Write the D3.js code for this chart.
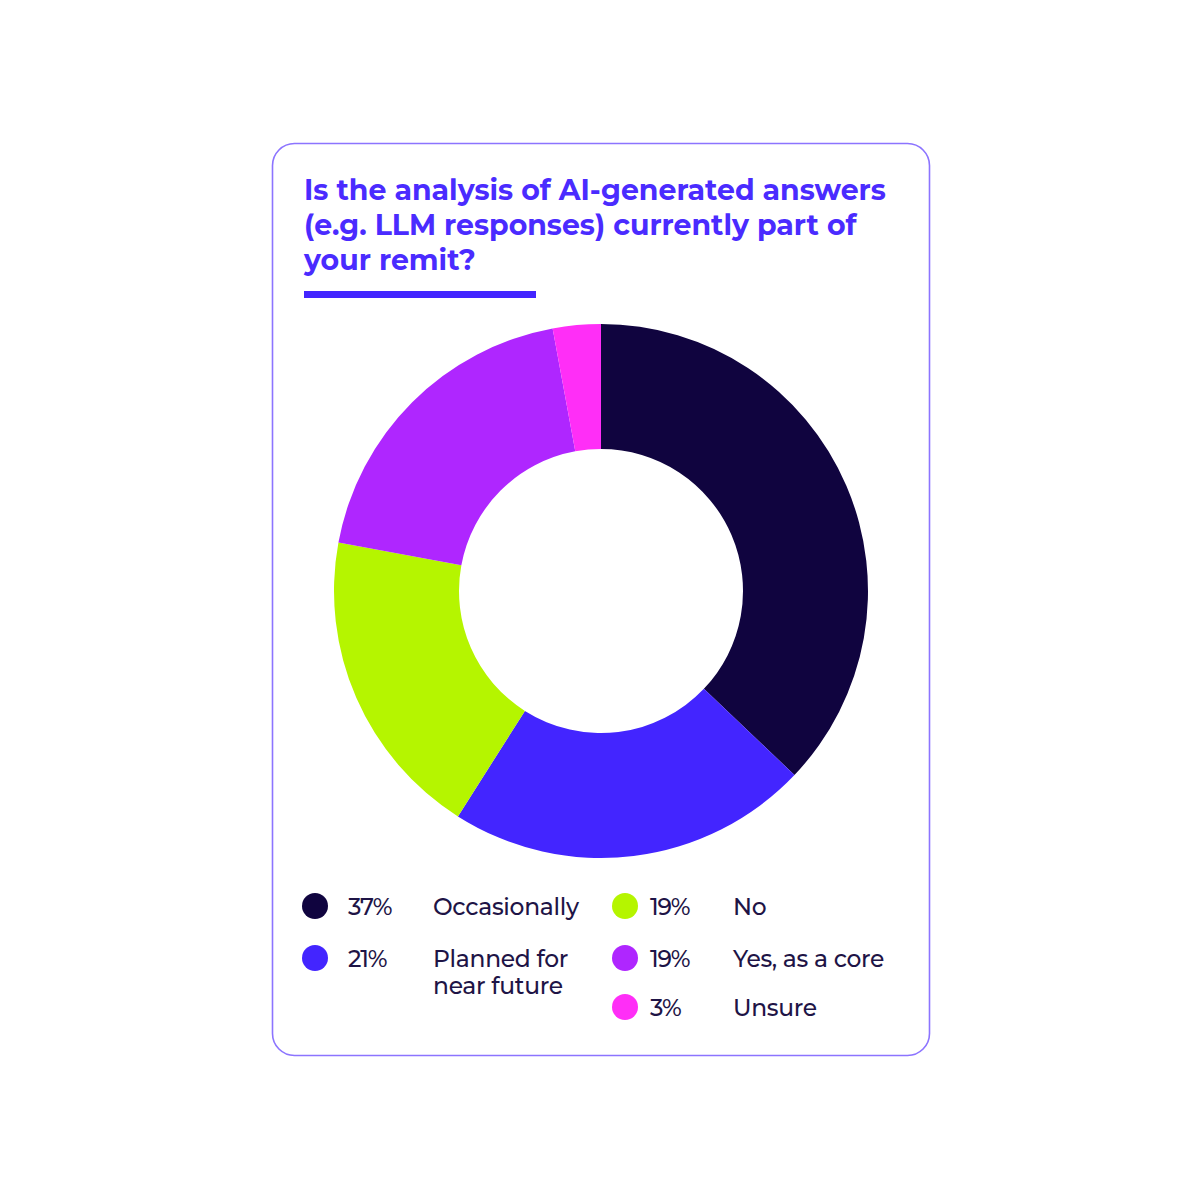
<!DOCTYPE html>
<html>
<head>
<meta charset="utf-8">
<script src="https://cdn.jsdelivr.net/npm/d3@7"></script>
<style>
  html, body { margin: 0; padding: 0; background: #ffffff; }
  svg { display: block; }
</style>
</head>
<body>
<svg id="chart" width="1200" height="1200"></svg>
<script>
// ---- data ----
const categories = ["Occasionally", "Planned for near future", "No", "Yes, as a core", "Unsure"];
const values = [37.1, 21.9, 18.9, 19.2, 2.9];
const percentLabels = ["37%", "21%", "19%", "19%", "3%"];
const colors = ["#10043F", "#4325FF", "#B5F500", "#AF26FF", "#FF2EF7"];
const titleLines = ["Is the analysis of AI-generated answers", "(e.g. LLM responses) currently part of", "your remit?"];
// legend layout order: [column, row] per category
const legendSlots = [[0, 0], [0, 1], [1, 0], [1, 1], [1, 2]];

const svg = d3.select("#chart");
const font = "Montserrat, 'Open Sans', 'Noto Sans', sans-serif";

// card
svg.append("rect")
  .attr("x", 272.5).attr("y", 143.5)
  .attr("width", 657).attr("height", 912)
  .attr("rx", 22).attr("ry", 22)
  .attr("fill", "#ffffff")
  .attr("stroke", "#8C74FF")
  .attr("stroke-width", 1.6);

// title
const title = svg.append("text")
  .attr("x", 304)
  .attr("font-family", font)
  .attr("font-weight", 700)
  .attr("font-size", 28.4)
  .attr("fill", "#4A2BFF");
titleLines.forEach((t, i) => {
  title.append("tspan").attr("x", 304).attr("y", 200 + i * 35).text(t);
});

// underline bar
svg.append("rect")
  .attr("x", 304).attr("y", 291)
  .attr("width", 232).attr("height", 7)
  .attr("fill", "#4325FF");

// donut
const cx = 601, cy = 591;
const pie = d3.pie().sort(null).value(d => d)(values);
const arc = d3.arc().innerRadius(142).outerRadius(267);
svg.append("g")
  .attr("transform", `translate(${cx},${cy})`)
  .selectAll("path")
  .data(pie)
  .join("path")
  .attr("d", arc)
  .attr("fill", (d, i) => colors[i]);

// legend
const colX = [315, 625];
const pctX = [348, 650];
const lblX = [433, 733];
const rowY = [906, 958, 1007];
const lg = svg.append("g");
categories.forEach((c, i) => {
  const [col, row] = legendSlots[i];
  const x = colX[col], y = rowY[row];
  lg.append("circle").attr("cx", x).attr("cy", y).attr("r", 13).attr("fill", colors[i]);
  lg.append("text")
    .attr("x", pctX[col]).attr("y", y + 9)
    .attr("font-family", font).attr("font-size", 23.4).attr("font-weight", 500)
    .attr("fill", "#1E1446")
    .attr("letter-spacing", -1.2)
    .text(percentLabels[i]);
  const lines = c === "Planned for near future" ? ["Planned for", "near future"] : [c];
  lines.forEach((l, k) => {
    lg.append("text")
      .attr("font-family", font).attr("font-size", 23.4).attr("font-weight", 500)
      .attr("fill", "#1E1446")
      .attr("letter-spacing", -0.3)
      .attr("x", lblX[col]).attr("y", y + 9 + k * 27)
      .text(l);
  });
});
</script>
</body>
</html>
